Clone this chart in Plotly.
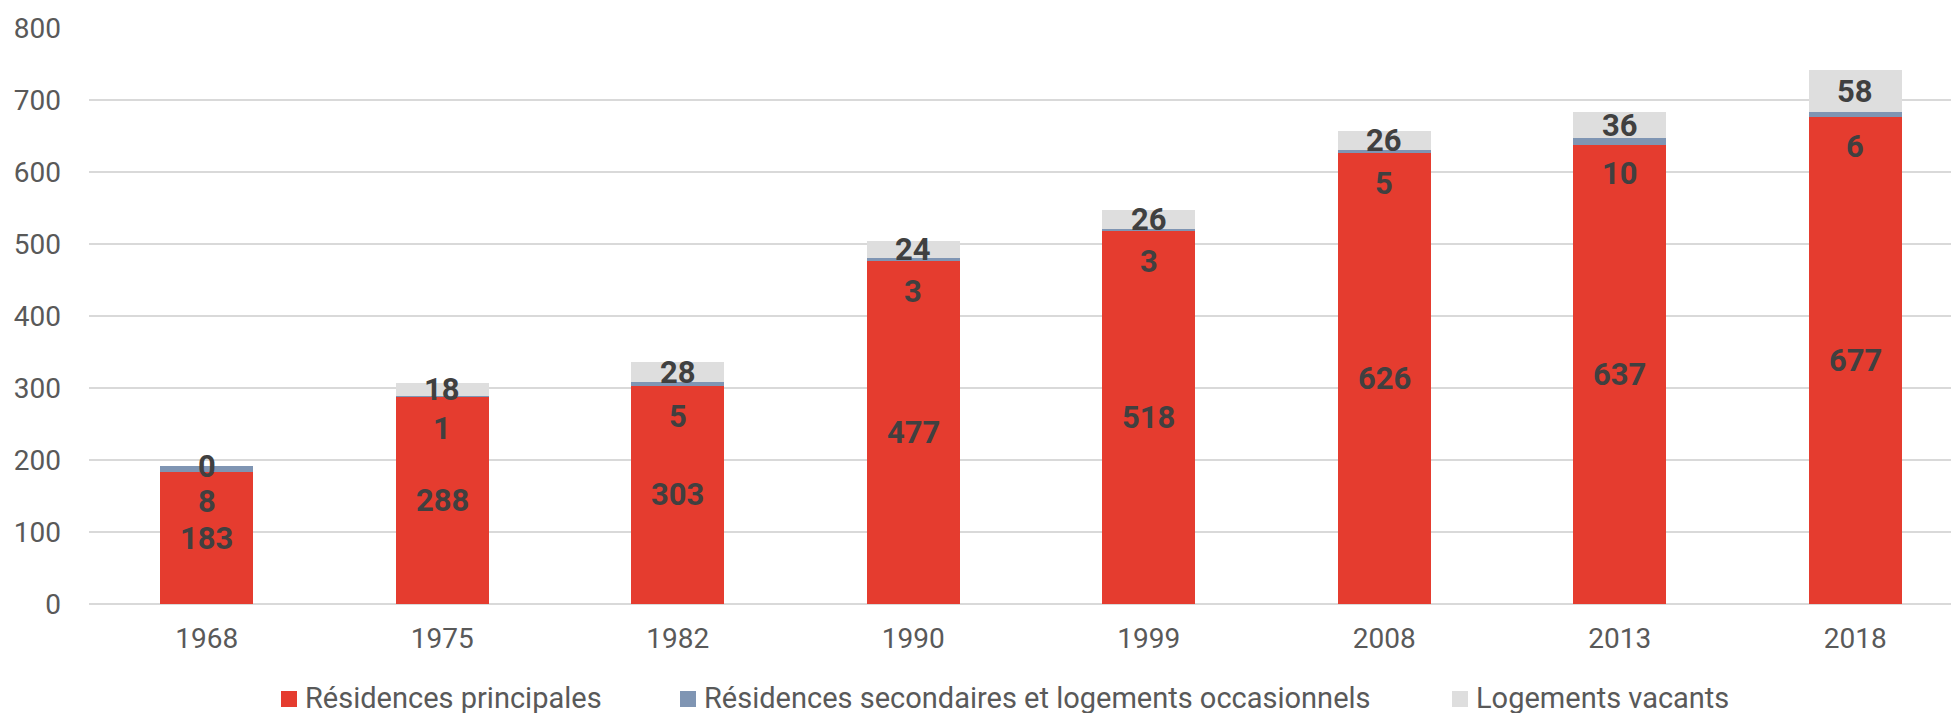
import plotly.graph_objects as go

years = ["1968", "1975", "1982", "1990", "1999", "2008", "2013", "2018"]
principales = [183, 288, 303, 477, 518, 626, 637, 677]
secondaires = [8, 1, 5, 3, 3, 5, 10, 6]
vacants = [0, 18, 28, 24, 26, 26, 36, 58]

names = ["Résidences principales",
         "Résidences secondaires et logements occasionnels",
         "Logements vacants"]
colors = ["#E53C2F", "#7F95B3", "#DEDEDE"]

FONT = "Roboto"
TXT = "#595959"
LBL = "#404040"

# plot area geometry (px)
L, T, B, W, H = 89, 28, 109, 1951, 713
PW, PH = W - L, H - T - B


def px2x(px):
    return (px - L) / PW


def py2y(py):
    return (H - B - py) / PH


fig = go.Figure()
series = [principales, secondaires, vacants]
for vals, name, col in zip(series, names, colors):
    fig.add_trace(go.Bar(x=years, y=vals, name=name, marker_color=col,
                         marker_line_width=0, width=0.395, showlegend=False))

annotations = []
for i in range(len(years)):
    p, s, v = principales[i], secondaires[i], vacants[i]
    annotations.append(dict(x=i, y=p / 2, text=str(p), yshift=0))
    annotations.append(dict(x=i, y=p + s / 2, text=str(s), yshift=-32))
    annotations.append(dict(x=i, y=p + s + v / 2, text=str(v), yshift=0))
for a in annotations:
    a.update(xref="x", yref="y", showarrow=False,
             font=dict(family=FONT, size=31, color=LBL, weight="bold"))

# custom legend (squares + texts)
shapes = []
legend_sq_x = [281, 680, 1452]
for sx, name, col in zip(legend_sq_x, names, colors):
    shapes.append(dict(type="rect", xref="paper", yref="paper",
                       x0=px2x(sx), x1=px2x(sx + 16), y0=py2y(707), y1=py2y(691),
                       fillcolor=col, line_width=0))
    annotations.append(dict(xref="paper", yref="paper", x=px2x(sx + 22), y=py2y(698),
                            xanchor="left", yanchor="middle", showarrow=False,
                            text=name, font=dict(family=FONT, size=29, color=TXT)))

fig.update_layout(
    barmode="stack",
    width=W, height=H,
    margin=dict(l=L, r=0, t=T, b=B),
    paper_bgcolor="white", plot_bgcolor="white",
    font=dict(family=FONT, size=28, color=TXT),
    annotations=annotations,
    shapes=shapes,
    showlegend=False,
    xaxis=dict(type="category", range=[-0.5, 7.407], showgrid=False,
               tickfont=dict(family=FONT, size=28, color=TXT), ticks="",
               showline=False, zeroline=False, ticklabelstandoff=15),
    yaxis=dict(range=[0, 800], dtick=100, showgrid=True, gridcolor="#D9D9D9",
               gridwidth=1.5, zeroline=True, zerolinecolor="#D9D9D9", zerolinewidth=1.5,
               tickfont=dict(family=FONT, size=28, color=TXT), ticks="",
               ticklabelstandoff=27, showline=False),
)

fig.write_html("out.html", config={"displayModeBar": False},
               post_script="document.body.style.margin='0px';document.body.style.overflow='hidden';")
